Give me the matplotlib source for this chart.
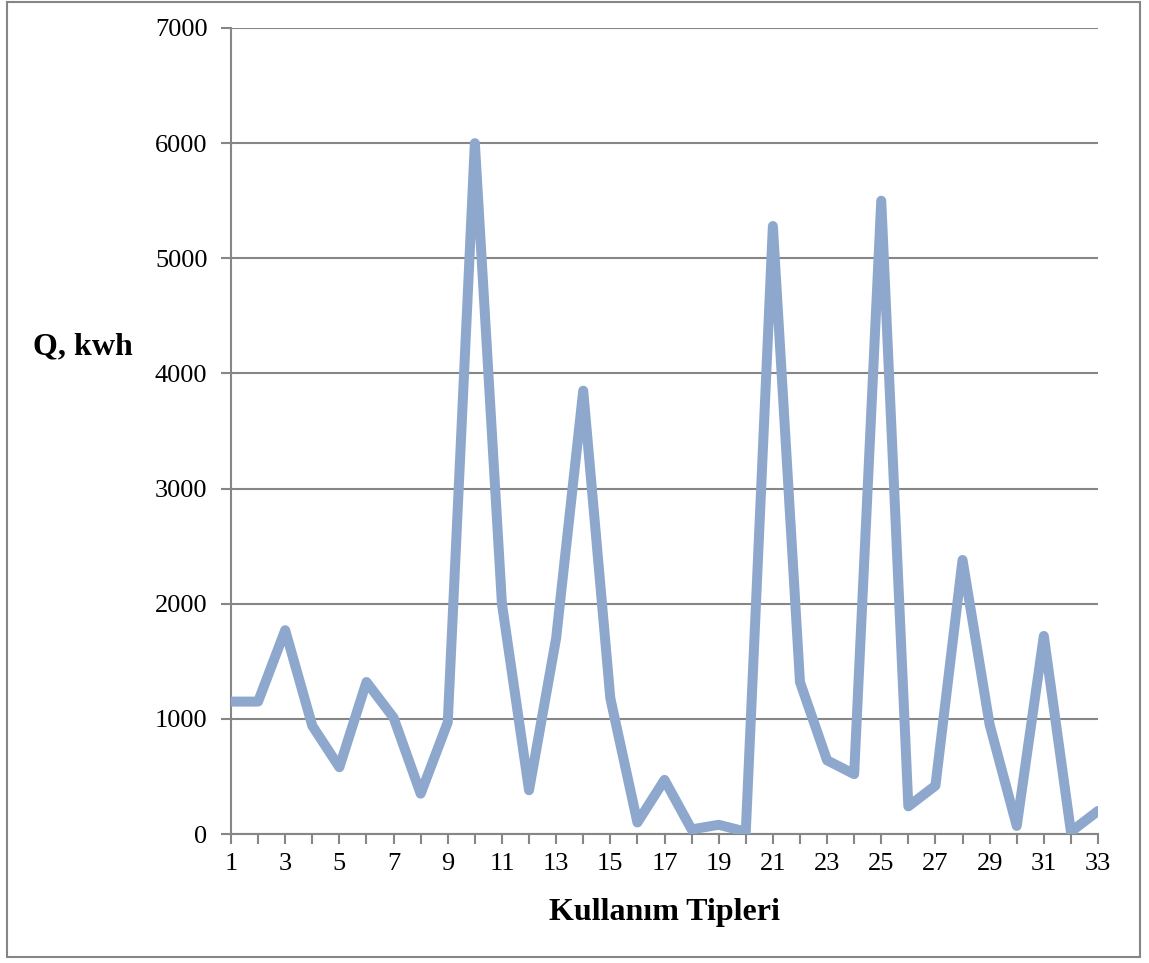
import matplotlib.pyplot as plt
from matplotlib.patches import Rectangle

# Energy use (Q, kWh) per usage type
kullanim_tipi = list(range(1, 34))
q_kwh = [1150, 1150, 1770, 940, 580, 1320, 1010, 350, 970, 6000,
         2000, 380, 1700, 3850, 1180, 100, 470, 40, 80, 20,
         5280, 1320, 640, 520, 5500, 240, 420, 2380, 950, 70,
         1720, 20, 200]
y_ticks = [0, 1000, 2000, 3000, 4000, 5000, 6000, 7000]

grey = '#868686'
line_color = '#8EA8CD'

plt.rcParams['font.family'] = ['Liberation Serif', 'DejaVu Serif']

fig = plt.figure(figsize=(11.49, 9.63), dpi=100)
ax = fig.add_axes([231 / 1149, 1 - 834 / 963, (1098 - 231) / 1149, (834 - 28) / 963])

ax.plot(kullanim_tipi, q_kwh, color=line_color, linewidth=7.2,
        solid_joinstyle='round', solid_capstyle='round', zorder=3)

ax.set_xlim(1, 33)
ax.set_ylim(0, 7000)
ax.set_yticks(y_ticks)
ax.set_xticks(kullanim_tipi)
ax.set_xticklabels([str(k) if k % 2 == 1 else '' for k in kullanim_tipi])

ax.grid(axis='y', color=grey, linewidth=1.5)
ax.set_axisbelow(True)
for side in ['top', 'right']:
    ax.spines[side].set_visible(False)
for side in ['left', 'bottom']:
    ax.spines[side].set_color(grey)
    ax.spines[side].set_linewidth(1.5)

ax.tick_params(axis='both', direction='out', length=7, width=1.5, color=grey,
               labelsize=19, labelcolor='black')
ax.tick_params(axis='y', pad=10)
ax.tick_params(axis='x', pad=7)

ax.set_xlabel('Kullanım Tipleri', fontsize=23, fontweight='bold', labelpad=16)
fig.text(33 / 1149, 1 - 347 / 963, 'Q, kwh', fontsize=23, fontweight='bold',
         ha='left', va='center')

# frame around the whole chart
fig.patches.append(Rectangle((7 / 1149, 6 / 963), 1133 / 1149, 955 / 963,
                             transform=fig.transFigure, fill=False,
                             edgecolor=grey, linewidth=1.5))

fig.savefig('out.png', dpi=100)
